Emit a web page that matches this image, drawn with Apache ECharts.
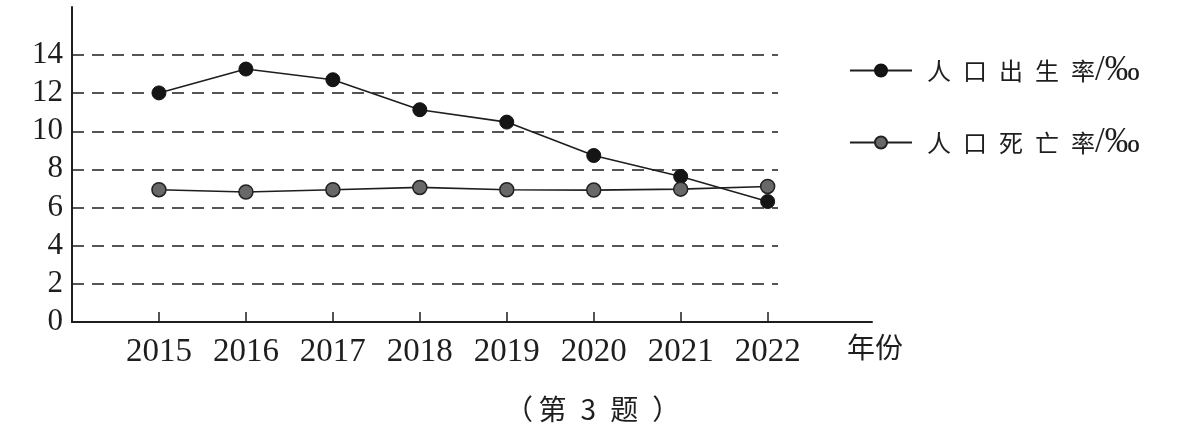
<!DOCTYPE html>
<html>
<head>
<meta charset="utf-8">
<script src="https://cdn.jsdelivr.net/npm/echarts@6/dist/echarts.min.js"></script>
<style>
  html, body { margin: 0; padding: 0; background: #fff; }
  #chart { width: 1190px; height: 433px; }
</style>
</head>
<body>
<div id="chart"></div>
<script>
// 数据
const years = [2015, 2016, 2017, 2018, 2019, 2020, 2021, 2022];
const birthRate = [12.0, 13.25, 12.69, 11.12, 10.47, 8.72, 7.62, 6.31];
const deathRate = [6.93, 6.81, 6.93, 7.05, 6.93, 6.91, 6.96, 7.1];
const yTicks = [0, 2, 4, 6, 8, 10, 12, 14];
const seriesNames = ['人口出生率/‰', '人口死亡率/‰'];

const ink = '#1e1e1e';
const serif = '"Liberation Serif", "DejaVu Serif", serif';
const cjk = '"Noto Sans CJK SC", sans-serif';

const chart = echarts.init(document.getElementById('chart'));

const option = {
  backgroundColor: '#fff',
  animation: false,
  title: {
    text: '（\u2009第\u20023\u2002题\u2002）',
    left: 505,
    top: 395,
    padding: 0,
    textStyle: { fontFamily: cjk, fontSize: 28, fontWeight: 'normal', color: ink }
  },
  legend: {
    data: seriesNames,
    orient: 'vertical',
    left: 849,
    top: 53,
    padding: 0,
    itemWidth: 62,
    itemHeight: 15,
    itemGap: 37,
    // 字间距拉开一点，单位符号用衬线体
    formatter: function (name) {
      const chars = name.replace('/‰', '').split('').join('\u2002');
      return '{c|' + chars + '}{p|/‰}';
    },
    textStyle: {
      color: ink,
      lineHeight: 30,
      padding: [0, 0, 0, 10],
      rich: {
        c: { fontFamily: cjk, fontSize: 24, color: ink, lineHeight: 30 },
        p: { fontFamily: serif, fontSize: 35, color: ink, lineHeight: 30 }
      }
    }
  },
  graphic: [{
    type: 'text',
    left: 847,
    top: 333,
    style: { text: '年份', font: '28px ' + cjk, fill: ink }
  }],
  grid: [
    { left: 72, right: 318, top: 7, bottom: 111 },
    { left: 72, right: 412, top: 55, bottom: 111 }
  ],
  xAxis: [{
    gridIndex: 0,
    type: 'value',
    min: 2014,
    max: 2023.2,
    axisLine: { lineStyle: { color: ink, width: 2 } },
    axisTick: { show: true, inside: true, length: 10, customValues: years, lineStyle: { color: ink, width: 1.5 } },
    axisLabel: {
      customValues: years,
      formatter: v => String(v),
      margin: 14, fontFamily: serif, fontSize: 33, color: ink
    },
    splitLine: { show: false }
  }, {
    gridIndex: 1,
    type: 'value',
    min: 2014,
    max: 2022.1,
    show: false
  }],
  yAxis: [{
    gridIndex: 0,
    type: 'value',
    min: 0,
    max: 16.5,
    axisLine: { show: true, lineStyle: { color: ink, width: 2 } },
    axisTick: { show: false, customValues: yTicks },
    axisLabel: { customValues: yTicks, margin: 9, fontFamily: serif, fontSize: 31, color: ink },
    splitLine: { show: false }
  }, {
    gridIndex: 1,
    type: 'value',
    min: 0,
    max: 14,
    interval: 2,
    axisLine: { show: false },
    axisTick: { show: false },
    axisLabel: { show: false },
    splitLine: { show: true, lineStyle: { color: ink, width: 1.5, type: [12, 8] } }
  }],
  series: [{
    name: seriesNames[0],
    type: 'line',
    xAxisIndex: 0,
    yAxisIndex: 0,
    data: years.map((y, i) => [y, birthRate[i]]),
    symbol: 'circle',
    symbolSize: 14,
    lineStyle: { color: ink, width: 1.6 },
    itemStyle: { color: '#151515', borderColor: '#111', borderWidth: 1 },
    z: 3
  }, {
    name: seriesNames[1],
    type: 'line',
    xAxisIndex: 0,
    yAxisIndex: 0,
    data: years.map((y, i) => [y, deathRate[i]]),
    symbol: 'circle',
    symbolSize: 14,
    lineStyle: { color: ink, width: 1.6 },
    itemStyle: { color: '#686868', borderColor: '#222', borderWidth: 1.5 },
    z: 4
  }]
};

chart.setOption(option);
</script>
</body>
</html>
